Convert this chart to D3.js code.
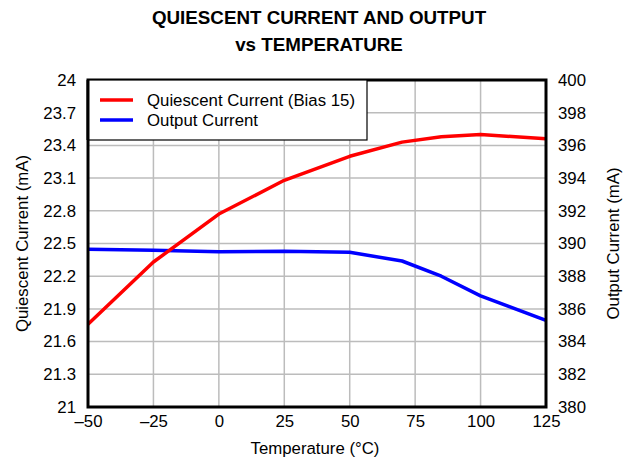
<!DOCTYPE html>
<html>
<head>
<meta charset="utf-8">
<script src="https://cdn.jsdelivr.net/npm/d3@7"></script>
<style>
  body { margin: 0; background: #fff; }
  text { font-family: "Liberation Sans", Arial, sans-serif; fill: #000; }
</style>
</head>
<body>
<div id="chart"></div>
<script>
const temps = [-50, -25, 0, 25, 50, 70, 85, 100, 125];
const quiescent = [21.76, 22.33, 22.77, 23.08, 23.30, 23.43, 23.48, 23.50, 23.46];
const output = [389.65, 389.58, 389.5, 389.53, 389.46, 388.93, 388.0, 386.8, 385.3];

const xTicks = [-50, -25, 0, 25, 50, 75, 100, 125];
const leftTicks = [21, 21.3, 21.6, 21.9, 22.2, 22.5, 22.8, 23.1, 23.4, 23.7, 24];
const rightTicks = [380, 382, 384, 386, 388, 390, 392, 394, 396, 398, 400];

const seriesNames = ['Quiescent Current (Bias 15)', 'Output Current'];
const seriesColors = ['#ff0000', '#0000ff'];

const W = 631, H = 460;
const plot = { left: 88, right: 546, top: 80, bottom: 407 };
const fontSize = '16.8px';

const svg = d3.select('#chart').append('svg')
  .attr('width', W)
  .attr('height', H);

const x = d3.scaleLinear().domain([-50, 125]).range([plot.left, plot.right]);
const yL = d3.scaleLinear().domain([21, 24]).range([plot.bottom, plot.top]);
const yR = d3.scaleLinear().domain([380, 400]).range([plot.bottom, plot.top]);

// title
svg.append('text')
  .attr('x', 319).attr('y', 24)
  .attr('text-anchor', 'middle')
  .style('font-size', '18.8px').style('font-weight', 'bold')
  .text('QUIESCENT CURRENT AND OUTPUT');
svg.append('text')
  .attr('x', 319).attr('y', 51)
  .attr('text-anchor', 'middle')
  .style('font-size', '18.8px').style('font-weight', 'bold')
  .text('vs TEMPERATURE');

// grid
const grid = svg.append('g').attr('stroke', '#bcbcbc').attr('stroke-width', 1.5);
grid.selectAll('.vg').data(xTicks.slice(1, -1)).join('line')
  .attr('x1', d => x(d)).attr('x2', d => x(d))
  .attr('y1', plot.top).attr('y2', plot.bottom);
grid.selectAll('.hg').data(leftTicks.slice(1, -1)).join('line')
  .attr('x1', plot.left).attr('x2', plot.right)
  .attr('y1', d => yL(d)).attr('y2', d => yL(d));

// axes (labels only, frame drawn separately)
const fmtX = d => (d < 0 ? '\u2013' + Math.abs(d) : String(d));

const xAxis = svg.append('g')
  .attr('transform', `translate(0,${plot.bottom})`)
  .call(d3.axisBottom(x).tickValues(xTicks).tickFormat(fmtX).tickSize(0).tickPadding(8));

const leftAxis = svg.append('g')
  .attr('transform', `translate(${plot.left},0)`)
  .call(d3.axisLeft(yL).tickValues(leftTicks).tickFormat(d3.format('')).tickSize(0).tickPadding(12));

const rightAxis = svg.append('g')
  .attr('transform', `translate(${plot.right},0)`)
  .call(d3.axisRight(yR).tickValues(rightTicks).tickFormat(d3.format('d')).tickSize(0).tickPadding(12));

[xAxis, leftAxis, rightAxis].forEach(a => {
  a.select('.domain').remove();
  a.selectAll('text')
    .style('font-family', '"Liberation Sans", Arial, sans-serif')
    .style('font-size', fontSize)
    .attr('fill', '#000');
});

// lines
const qLine = d3.line().x((d, i) => x(temps[i])).y(d => yL(d));
const oLine = d3.line().x((d, i) => x(temps[i])).y(d => yR(d));

svg.append('path').datum(output)
  .attr('d', oLine)
  .attr('fill', 'none')
  .attr('stroke', seriesColors[1])
  .attr('stroke-width', 3.5)
  .attr('stroke-linejoin', 'round');

svg.append('path').datum(quiescent)
  .attr('d', qLine)
  .attr('fill', 'none')
  .attr('stroke', seriesColors[0])
  .attr('stroke-width', 3.5)
  .attr('stroke-linejoin', 'round');

// frame
svg.append('rect')
  .attr('x', plot.left).attr('y', plot.top)
  .attr('width', plot.right - plot.left)
  .attr('height', plot.bottom - plot.top)
  .attr('fill', 'none')
  .attr('stroke', '#000')
  .attr('stroke-width', 3);

// legend
const legend = svg.append('g');
legend.append('rect')
  .attr('x', plot.left).attr('y', plot.top)
  .attr('width', 279).attr('height', 60)
  .attr('fill', '#fff')
  .attr('stroke', '#000')
  .attr('stroke-width', 1.2);
legend.append('line')
  .attr('x1', plot.left).attr('x2', plot.left)
  .attr('y1', plot.top).attr('y2', plot.top + 60)
  .attr('stroke', '#000').attr('stroke-width', 3);

seriesNames.forEach((name, i) => {
  const yy = 100 + i * 20;
  legend.append('line')
    .attr('x1', 100).attr('x2', 133)
    .attr('y1', yy).attr('y2', yy)
    .attr('stroke', seriesColors[i])
    .attr('stroke-width', 3.5);
  legend.append('text')
    .attr('x', 147).attr('y', yy + 6)
    .style('font-size', fontSize)
    .text(name);
});

// axis titles
svg.append('text')
  .attr('x', (plot.left + plot.right) / 2 - 2).attr('y', 454)
  .attr('text-anchor', 'middle')
  .style('font-size', fontSize)
  .text('Temperature (\u00B0C)');

svg.append('text')
  .attr('transform', `translate(28,${(plot.top + plot.bottom) / 2}) rotate(-90)`)
  .attr('text-anchor', 'middle')
  .style('font-size', fontSize)
  .text('Quiescent Current (mA)');

svg.append('text')
  .attr('transform', `translate(619,${(plot.top + plot.bottom) / 2}) rotate(-90)`)
  .attr('text-anchor', 'middle')
  .style('font-size', fontSize)
  .text('Output Current (mA)');
</script>
</body>
</html>
